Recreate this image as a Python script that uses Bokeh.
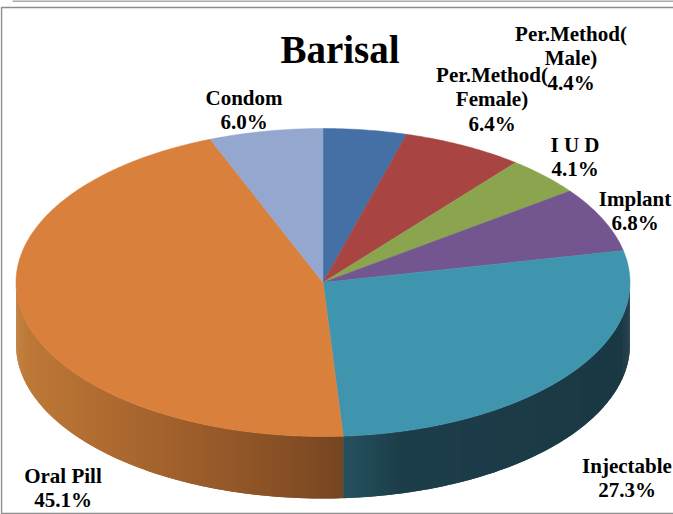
import math
from bokeh.plotting import figure
from bokeh.models import Range1d
from bokeh.core.properties import value
from bokeh.embed import file_html
from bokeh.resources import INLINE

title = "Barisal"
categories = ["Per.Method(\nMale)", "Per.Method(\nFemale)", "I U D", "Implant", "Injectable", "Oral Pill", "Condom"]
shares = [4.4, 6.4, 4.1, 6.8, 27.3, 45.1, 6.0]
top_colors = ["#4570A6", "#A84442", "#8BA44E", "#735590", "#4095AE", "#D8803C", "#93A7CF"]
label_centers = [(570.5, 33), (491.5, 74), (574.5, 144), (634.5, 198), (626.5, 465), (62.5, 475), (243.5, 97)]
# side shading stops: (x position, colour) per slice that shows a side wall
side_stops = {
    "Injectable": [(345, "#25505F"), (400, "#1C3E4A"), (640, "#1A3844")],
    "Oral Pill": [(15, "#C07B3A"), (100, "#B06C31"), (200, "#9B5C2B"), (300, "#834D24"), (345, "#744420")],
}

CX, CY, RX, RY, DEPTH = 322.5, 282, 307, 154, 62


def pt(deg, dy=0):
    a = math.radians(deg)
    return CX + RX * math.sin(a), CY - RY * math.cos(a) + dy


def shade(stops, x):
    if x <= stops[0][0]:
        return stops[0][1]
    for (x0, c0), (x1, c1) in zip(stops, stops[1:]):
        if x <= x1:
            t = (x - x0) / (x1 - x0)
            rgb = [round(int(c0[i:i + 2], 16) * (1 - t) + int(c1[i:i + 2], 16) * t) for i in (1, 3, 5)]
            return "#%02x%02x%02x" % tuple(rgb)
    return stops[-1][1]


p = figure(width=673, height=514, x_range=Range1d(0, 673), y_range=Range1d(514, 0),
           output_backend="svg", toolbar_location=None, min_border=0)
p.styles = {"position": "absolute", "left": "0px", "top": "0px"}
p.axis.visible = False
p.grid.visible = False
p.outline_line_color = None
p.background_fill_color = "#ffffff"

# frame
p.multi_line(xs=[[12, 673], [673, 1, 1, 673]], ys=[[0.5, 0.5], [7, 7, 513, 513]],
             line_color="#8c8c8c", line_width=1.5)

# slice angles, clockwise from the top
edges = [0.0]
for s in shares:
    edges.append(edges[-1] + s / sum(shares) * 360)

# side wall: each strip runs on under the next one, so no seams show
sx, sy, sc = [], [], []
for i, name in enumerate(categories):
    if name not in side_stops:
        continue
    a0, a1 = max(edges[i], 90.0), min(edges[i + 1], 270.0)
    n = max(2, int((a1 - a0) * 2))
    step = (a1 - a0) / n
    for k in range(n):
        u0 = a0 + step * k
        u1 = u0 + step
        mid = pt((u0 + u1) / 2)[0]
        u1 = min(a1, u1 + step)
        x0, y0 = pt(u0)
        x1, y1 = pt(u1)
        x2, y2 = pt(u1, DEPTH)
        x3, y3 = pt(u0, DEPTH)
        sx.append([x0, x1, x2, x3])
        sy.append([y0, y1, y2, y3])
        sc.append(shade(side_stops[name], mid))
p.patches(sx, sy, fill_color=sc, line_color=None)

# top face
tx, ty = [], []
for i in range(len(shares)):
    n = max(2, int(edges[i + 1] - edges[i]) * 2)
    pts = [pt(edges[i] + (edges[i + 1] - edges[i]) * k / n) for k in range(n + 1)]
    tx.append([CX] + [q[0] for q in pts])
    ty.append([CY] + [q[1] for q in pts])
p.patches(tx, ty, fill_color=top_colors, line_color=top_colors, line_width=0.5)

# labels
LINE = 24.5
lx, ly, lt = [], [], []
for name, s, (cx, cy) in zip(categories, shares, label_centers):
    for j, line in enumerate(name.split("\n") + [f"{s:.1f}%"]):
        lx.append(cx)
        ly.append(cy + j * LINE)
        lt.append(line)
p.text(lx, ly, text=lt, text_font=value("Liberation Serif"), text_font_style="bold",
       text_font_size="21px", text_color="#000000", text_align="center", text_baseline="middle")
p.text([339.5], [49], text=[title], text_font=value("Liberation Serif"), text_font_style="bold",
       text_font_size="39px", text_color="#000000", text_align="center", text_baseline="middle")

open("out.html", "w").write(file_html(p, INLINE))
